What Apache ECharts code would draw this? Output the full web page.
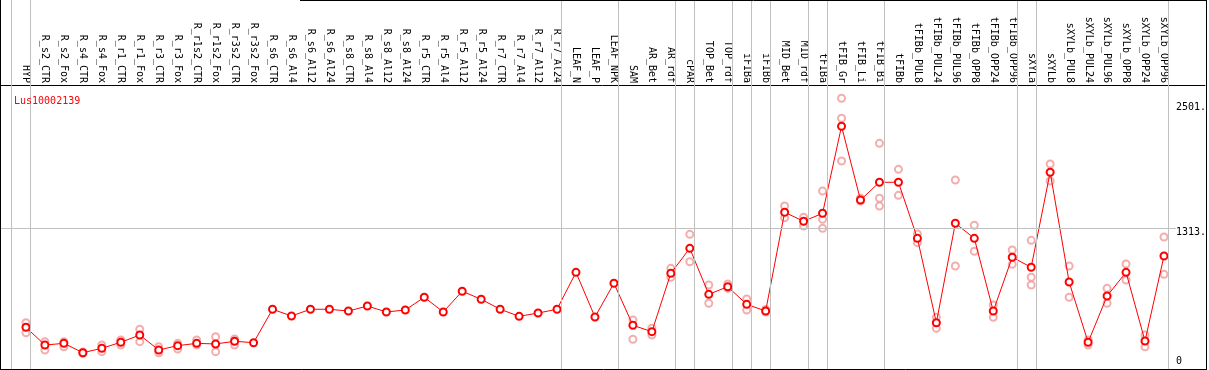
<!DOCTYPE html>
<html><head><meta charset="utf-8">
<script src="https://cdn.jsdelivr.net/npm/echarts@6/dist/echarts.min.js"></script>
<style>html,body{margin:0;padding:0;background:#fff}#c{width:1209px;height:370px}</style>
</head><body><div id="c"></div>
<script>
// ---------- data ----------
const geneId = 'Lus10002139';
const categories = ['HYP','R_s2_CTR','R_s2_Fox','R_s4_CTR','R_s4_Fox','R_r1_CTR','R_r1_Fox','R_r3_CTR','R_r3_Fox',
  'R_r1s2_CTR','R_r1s2_Fox','R_r3s2_CTR','R_r3s2_Fox','R_s6_CTR','R_s6_Al4','R_s6_Al12','R_s6_Al24',
  'R_s8_CTR','R_s8_Al4','R_s8_Al12','R_s8_Al24','R_r5_CTR','R_r5_Al4','R_r5_Al12','R_r5_Al24',
  'R_r7_CTR','R_r7_Al4','R_r7_Al12','R_r7_Al24','LEAF_N','LEAF_P','LEAF_NPK','SAM','AR_Bet','AR_rdf',
  'cPAR','TOP_Bet','TOP_rdf','iFIBa','iFIBb','MID_Bet','MID_rdf','tFIBa','tFIB_Gr','tFIB_Li','tFIB_Bi',
  'tFIBb','tFIBb_PUL8','tFIBb_PUL24','tFIBb_PUL96','tFIBb_OPP8','tFIBb_OPP24','tFIBb_OPP96',
  'sXYLa','sXYLb','sXYLb_PUL8','sXYLb_PUL24','sXYLb_PUL96','sXYLb_OPP8','sXYLb_OPP24','sXYLb_OPP96'];
const means = [373,204,220,131,173,230,299,157,198,220,214,240,226,544,480,544,544,527,575,518,537,
  658,518,715,639,544,477,508,544,895,470,791,392,331,886,1123,686,758,591,527,1466,1380,1456,2283,
  1582,1751,1751,1218,416,1361,1218,527,1038,943,1846,803,230,670,895,242,1050];
const replicates = [[416,321],[236,157],[236,188],[138,125],[204,141],[252,204],[354,236],[188,131],
  [220,166],[252,204],[283,141],[261,204],[],[],[],[],[],[],[],[],[],[],[],[],[],[],[],[],[],[],[],[],
  [442,259],[363,299],[933,848],[1256,996],[775,601],[784,743],[642,537],[542,518],[1525,1414],
  [1418,1335],[1668,1399,1313],[2549,2359,1953],[1599,1573],[2121,1599,1525],[1874,1627],[1259,1177],
  [468,363],[1772,955],[1342,1095],[584,468],[1107,971],[1199,848,775],[1925,1763],[955,658],[252,204],
  [743,601],[974,822],[299,188],[1231,876]];
const yTickValues = [0, 1313, 2501];
const groupEnds = [-1, 0, 28, 31, 34, 35, 37, 38, 39, 41, 42, 45, 52, 53, 60];

// ---------- layout ----------
const FONT = 'DejaVu Sans Mono';
const X0 = 26, STEP = 19, W = 1209, H = 370, GRID_RIGHT = 2;
const xMin = -X0 / STEP, xMax = (W - GRID_RIGHT - X0) / STEP;
const Y0 = 366.5, PX_PER_UNIT = 0.10522;
const yMax = Y0 / PX_PER_UNIT, yMin = -(H - Y0) / PX_PER_UNIT;
const sepOffset = 4.5 / STEP;

const lineData = means.map((v, i) => [i, v]);
const repData = [];
replicates.forEach((arr, i) => arr.forEach(v => repData.push([i, v])));

const markData = groupEnds.map(i => ({ xAxis: i + sepOffset, lineStyle: { color: '#c0c0c0', width: 1, type: 'solid' } }));
markData.push([{ coord: [xMin, 1313] }, { coord: [(1178 - X0) / STEP, 1313] }]);

const chart = echarts.init(document.getElementById('c'), null, { renderer: 'canvas' });
chart.setOption({
  animation: false,
  backgroundColor: '#fff',
  title: { text: geneId, left: 9, top: 91, textStyle: { color: '#ff0000', fontFamily: FONT, fontSize: 10, fontWeight: 'normal' } },
  grid: { left: 0, right: GRID_RIGHT, top: 0, bottom: 0, containLabel: false },
  xAxis: {
    type: 'value', min: xMin, max: xMax, position: 'top', offset: -85,
    axisLine: { show: true, onZero: false, lineStyle: { color: '#000', width: 1 } },
    axisTick: { show: false }, splitLine: { show: false },
    axisLabel: { customValues: categories.map((_, i) => i), formatter: v => categories[Math.round(v)],
      rotate: 90, margin: 2, fontFamily: FONT, fontSize: 10, color: '#000' }
  },
  yAxis: {
    type: 'value', min: yMin, max: yMax, position: 'right',
    axisLine: { show: false }, axisTick: { show: false }, splitLine: { show: false },
    axisLabel: {
      customValues: yTickValues, inside: true, align: 'left', margin: W - GRID_RIGHT - 1178,
      formatter: v => v === 0 ? '{z|0}' : '{a|' + v + '.}',
      rich: {
        a: { padding: [8, 0, 0, 0], fontFamily: FONT, fontSize: 10, color: '#000' },
        z: { padding: [0, 0, 10, 0], fontFamily: FONT, fontSize: 10, color: '#000' }
      }
    }
  },
  graphic: [
    { type: 'line', shape: { x1: 0.5, y1: 0, x2: 0.5, y2: 370 }, style: { stroke: '#000', lineWidth: 1 }, z: 100 },
    { type: 'line', shape: { x1: 1206.5, y1: 0, x2: 1206.5, y2: 370 }, style: { stroke: '#000', lineWidth: 1 }, z: 100 },
    { type: 'line', shape: { x1: 0, y1: 369.5, x2: 1207, y2: 369.5 }, style: { stroke: '#000', lineWidth: 1 }, z: 100 },
    { type: 'line', shape: { x1: 300, y1: 0.5, x2: 1207, y2: 0.5 }, style: { stroke: '#000', lineWidth: 1 }, z: 100 }
  ],
  series: [
    { type: 'line', data: [], z: 1, silent: true, symbol: 'none',
      markLine: { silent: true, symbol: 'none', label: { show: false }, animation: false,
        lineStyle: { color: '#c0c0c0', width: 1, type: 'solid' }, data: markData } },
    { type: 'scatter', data: repData, symbol: 'emptyCircle', symbolSize: 7, z: 2, silent: true,
      itemStyle: { color: '#f09898', borderColor: '#f09898', borderWidth: 1 } },
    { type: 'line', data: lineData, symbol: 'emptyCircle', symbolSize: 7, z: 3, silent: true,
      lineStyle: { color: '#ff0000', width: 1 }, itemStyle: { color: '#ff0000', borderColor: '#ff0000', borderWidth: 1.6 } }
  ]
});
</script></body></html>
